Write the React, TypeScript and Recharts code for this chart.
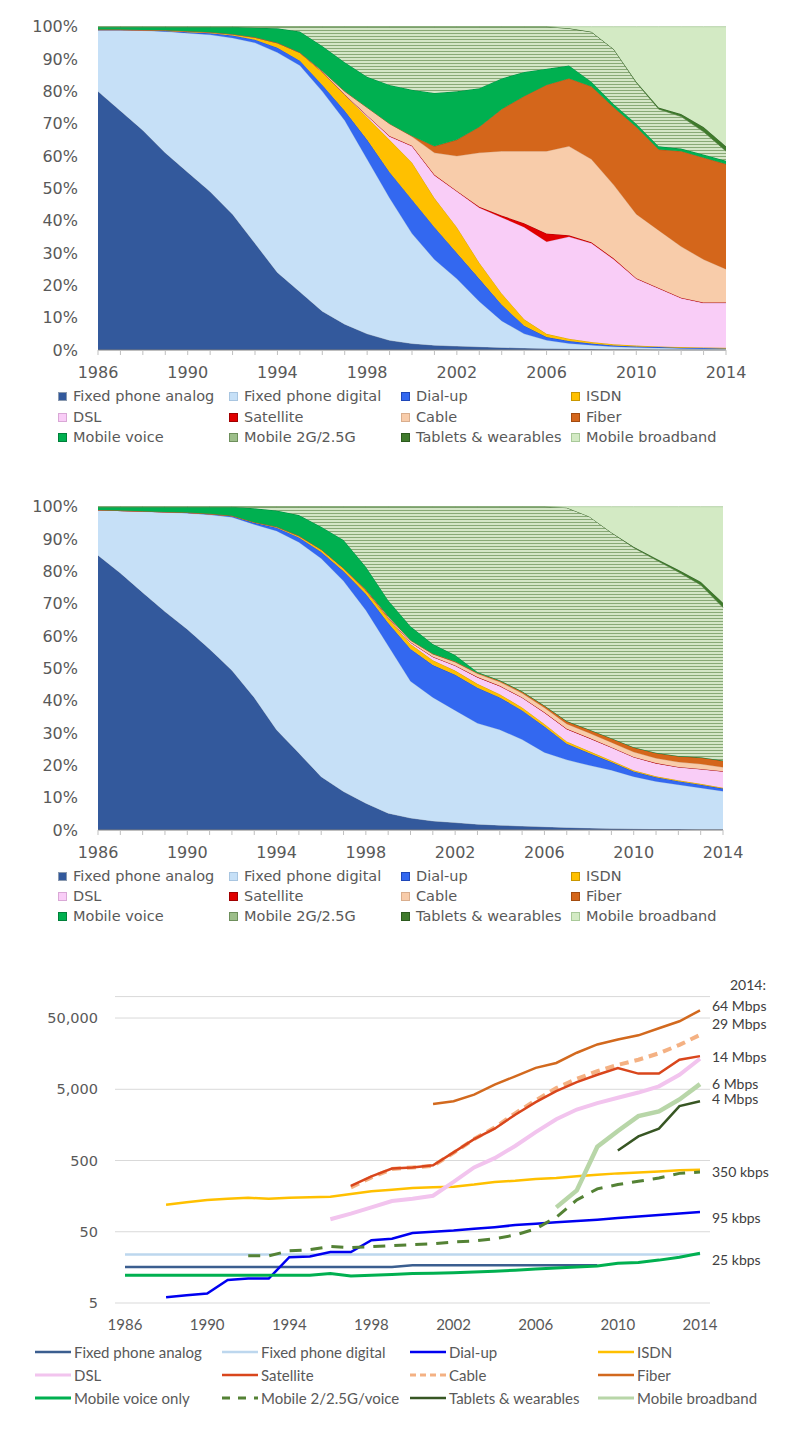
import React from 'react';
import { AreaChart, Area, LineChart, Line, XAxis, YAxis, CartesianGrid } from 'recharts';

const years = [1986, 1987, 1988, 1989, 1990, 1991, 1992, 1993, 1994, 1995, 1996, 1997, 1998, 1999, 2000,
  2001, 2002, 2003, 2004, 2005, 2006, 2007, 2008, 2009, 2010, 2011, 2012, 2013, 2014];

// upper panel, share in %
const topAnalog = [80, 74, 68, 61, 55, 49, 42, 33, 24, 18, 12, 8, 5, 3, 2, 1.5, 1.2, 1, 0.8, 0.6, 0.5, 0.4, 0.3, 0.2, 0.2, 0.1, 0.1, 0.1, 0.1];
const topDigital = [19, 25, 30.8, 37.5, 43, 48.5, 54.5, 62, 68, 70, 68, 63, 54, 44, 34, 26.5, 20.8, 14, 8.2, 4.4, 2.5, 1.6, 1.2, 0.8, 0.6, 0.5, 0.4, 0.3, 0.2];
const topDialup = [0, 0, 0.1, 0.2, 0.3, 0.5, 0.8, 1, 1.5, 1.5, 2, 3, 6, 8, 10.5, 10, 8, 7, 5, 2.5, 1, 0.8, 0.5, 0.4, 0.3, 0.3, 0.2, 0.2, 0.2];
const topIsdn = [0.1, 0.1, 0.1, 0.2, 0.3, 0.3, 0.4, 0.7, 1.5, 2.5, 4, 5, 7, 10, 11.5, 9, 8, 5, 3.5, 2, 1, 0.7, 0.5, 0.4, 0.3, 0.2, 0.2, 0.2, 0.2];
const topDsl = [0, 0, 0, 0, 0, 0, 0, 0, 0, 0, 0, 0, 0.5, 1, 5, 7, 11, 17, 23.5, 28.5, 28.5, 31.5, 30.5, 26.2, 20.6, 17.9, 15.1, 13.7, 13.8];
const topSatellite = [0, 0, 0, 0, 0, 0, 0, 0, 0, 0, 0, 0, 0, 0.2, 0.2, 0.2, 0.2, 0.3, 0.6, 1.2, 2.5, 0.5, 0.3, 0.3, 0.2, 0.2, 0.2, 0.2, 0.2];
const topCable = [0, 0, 0, 0, 0, 0, 0, 0, 0, 0, 0.3, 1, 2.5, 3.8, 2.8, 6.8, 10.8, 16.7, 19.9, 22.3, 25.5, 27.5, 25.7, 22.7, 19.8, 17.8, 15.8, 13.3, 10.3];
const topFiber = [0, 0, 0, 0, 0, 0, 0, 0, 0, 0, 0, 0, 0, 0, 0.2, 2, 5, 8, 13, 17, 20.5, 21, 22.5, 24, 27, 25, 29.5, 31.5, 32.5];
const topVoice = [0.9, 0.9, 1, 1.1, 1.4, 1.7, 2.3, 3, 4.5, 6.5, 7.7, 9, 9.5, 12, 14.3, 16.5, 15, 12, 9.5, 7.5, 5, 4, 1.5, 1, 1, 1, 0.8, 1, 1];
const topMobile2g = [0, 0, 0, 0, 0, 0, 0, 0.3, 0.5, 1.5, 6, 11, 15.5, 18, 19.5, 20.5, 20, 19, 16, 14, 13, 11.5, 15.4, 17, 12.7, 11.5, 9.9, 7, 3];
const topTablets = [0, 0, 0, 0, 0, 0, 0, 0, 0, 0, 0, 0, 0, 0, 0, 0, 0, 0, 0, 0, 0, 0, 0, 0, 0.3, 0.5, 0.8, 1.5, 1.5];
const topMobileBb = [0, 0, 0, 0, 0, 0, 0, 0, 0, 0, 0, 0, 0, 0, 0, 0, 0, 0, 0, 0, 0, 0.5, 1.6, 7, 17, 25, 27, 31, 37];

// middle panel, share in %
const midAnalog = [85, 79.5, 73.5, 67.5, 62, 55.7, 49, 41, 31, 23.8, 16.5, 11.9, 8.3, 5.2, 3.7, 2.8, 2.3, 1.8, 1.5, 1.2, 1, 0.8, 0.6, 0.5, 0.4, 0.3, 0.3, 0.2, 0.2];
const midDigital = [14, 19.3, 25, 30.7, 35.8, 41.3, 47, 53.5, 61.5, 65.2, 67.5, 65.1, 59.7, 51.8, 42.3, 38.2, 34.7, 31.2, 29.5, 26.8, 23, 20.9, 19.4, 18, 16.1, 14.7, 13.7, 12.8, 11.8];
const midDialup = [0, 0, 0.1, 0.1, 0.2, 0.3, 0.4, 0.5, 1, 1.5, 2, 3, 5, 7, 10, 10, 11, 11, 10, 9, 8, 5, 3.8, 2.5, 1.6, 1.3, 1.1, 1, 0.8];
const midIsdn = [0, 0, 0, 0, 0, 0, 0, 0.2, 0.3, 0.5, 0.8, 1, 1.2, 1.5, 1.5, 1.5, 1.3, 1.2, 1, 0.9, 0.8, 0.7, 0.6, 0.5, 0.4, 0.3, 0.3, 0.3, 0.3];
const midDsl = [0, 0, 0, 0, 0, 0, 0, 0, 0, 0, 0, 0, 0, 0.2, 0.5, 1, 1.5, 2, 2.5, 3, 3.5, 3.8, 4, 4, 4, 4, 4, 4.5, 5];
const midSatellite = [0, 0, 0, 0, 0, 0, 0, 0, 0, 0, 0, 0, 0, 0, 0.1, 0.1, 0.1, 0.1, 0.1, 0.1, 0.1, 0.1, 0.1, 0.1, 0.1, 0.1, 0.1, 0.1, 0.1];
const midCable = [0, 0, 0, 0, 0, 0, 0, 0, 0, 0, 0, 0, 0.2, 0.4, 0.6, 0.8, 1, 1, 1.2, 1.3, 1.4, 1.5, 1.5, 1.5, 1.5, 1.5, 1.5, 1.5, 1.2];
const midFiber = [0, 0, 0, 0, 0, 0, 0, 0, 0, 0, 0, 0, 0, 0, 0, 0.1, 0.2, 0.3, 0.4, 0.5, 0.6, 0.8, 1, 1.2, 1.4, 1.6, 1.8, 2, 2];
const midVoice = [1, 1.2, 1.4, 1.6, 1.8, 2.2, 2.8, 4.3, 5, 6.4, 7, 8.7, 7, 5, 4.3, 3, 2, 0.3, 0.1, 0.1, 0.1, 0.1, 0.1, 0.1, 0.1, 0.1, 0.1, 0.1, 0.1];
const midMobile2g = [0, 0, 0, 0, 0, 0, 0, 0.5, 1.2, 2.6, 6.2, 10.3, 18.6, 28.9, 37, 42.5, 45.9, 51.1, 53.7, 57.1, 61.5, 66, 65.9, 63.6, 61.7, 59.6, 56.9, 53.3, 47.3];
const midTablets = [0, 0, 0, 0, 0, 0, 0, 0, 0, 0, 0, 0, 0, 0, 0, 0, 0, 0, 0, 0, 0, 0, 0, 0, 0.3, 0.5, 0.7, 1, 1.5];
const midMobileBb = [0, 0, 0, 0, 0, 0, 0, 0, 0, 0, 0, 0, 0, 0, 0, 0, 0, 0, 0, 0, 0, 0.3, 3, 8, 12.4, 16, 19.5, 23.2, 29.7];

// lower panel, kbps (log scale)
const n = null;
const kbpsAnalog = [16, 16, 16, 16, 16, 16, 16, 16, 16, 16, 16, 16, 16, 16, 17, 17, 17, 17, 17, 17, 17, 17, 17, 17, n, n, n, n, n];
const kbpsDigital = [24, 24, 24, 24, 24, 24, 24, 24, 24, 24, 24, 24, 24, 24, 24, 24, 24, 24, 24, 24, 24, 24, 24, 24, 24, 24, 24, 24, 24];
const kbpsDialup = [n, n, 6, 6.4, 6.8, 10.5, 11, 11, 22, 22.5, 26, 26, 38, 40, 48, 50, 52, 55, 58, 62, 65, 68, 71, 74, 78, 82, 86, 90, 95];
const kbpsIsdn = [n, n, 120, 130, 140, 145, 150, 145, 150, 152, 155, 170, 185, 195, 205, 210, 215, 230, 250, 260, 275, 285, 300, 315, 330, 340, 350, 365, 370];
const kbpsDsl = [n, n, n, n, n, n, n, n, n, n, 75, 90, 110, 135, 145, 160, 250, 400, 540, 800, 1250, 1900, 2600, 3200, 3800, 4500, 5500, 8000, 13400];
const kbpsSatellite = [n, n, n, n, n, n, n, n, n, n, n, 220, 300, 385, 400, 430, 650, 1000, 1400, 2200, 3300, 4700, 6300, 8000, 9900, 8300, 8300, 13000, 14600];
const kbpsCable = [n, n, n, n, n, n, n, n, n, n, n, 210, 290, 380, 400, 420, 640, 1000, 1450, 2300, 3500, 5200, 7000, 9000, 11000, 13000, 16000, 21000, 29000];
const kbpsFiber = [n, n, n, n, n, n, n, n, n, n, n, n, n, n, n, 3100, 3400, 4200, 5800, 7600, 10000, 11700, 16300, 21300, 25000, 28600, 36000, 45000, 64000];
const kbpsVoice = [12.3, 12.3, 12.3, 12.3, 12.3, 12.3, 12.3, 12.3, 12.3, 12.3, 13, 12, 12.3, 12.6, 13, 13.1, 13.3, 13.6, 14, 14.4, 15, 15.5, 16, 16.5, 18, 18.5, 20, 22, 25];
const kbpsMobile2g = [n, n, n, n, n, n, 23, 23, 27, 28, 31, 30, 31, 32, 33, 34, 36, 37, 40, 45, 55, 80, 140, 200, 230, 255, 285, 330, 345];
const kbpsTablets = [n, n, n, n, n, n, n, n, n, n, n, n, n, n, n, n, n, n, n, n, n, n, n, n, 690, 1090, 1400, 2900, 3400];
const kbpsMobileBb = [n, n, n, n, n, n, n, n, n, n, n, n, n, n, n, n, n, n, n, n, n, 110, 190, 780, 1300, 2100, 2450, 3600, 5900];

const endLabels = ['64 Mbps', '29 Mbps', '14 Mbps', '6 Mbps', '4 Mbps', '350 kbps', '95 kbps', '25 kbps'];

const keys = ['analog', 'digital', 'dialup', 'isdn', 'dsl', 'satellite', 'cable', 'fiber', 'voice', 'mobile2g', 'tablets', 'mobilebb'];
const shareNames = ['Fixed phone analog', 'Fixed phone digital', 'Dial-up', 'ISDN', 'DSL', 'Satellite', 'Cable', 'Fiber',
  'Mobile voice', 'Mobile 2G/2.5G', 'Tablets & wearables', 'Mobile broadband'];
const speedNames = ['Fixed phone analog', 'Fixed phone digital', 'Dial-up', 'ISDN', 'DSL', 'Satellite', 'Cable', 'Fiber',
  'Mobile voice only', 'Mobile 2/2.5G/voice', 'Tablets & wearables', 'Mobile broadband'];

const areaFill = ['#33599C', '#C6E0F7', '#3368F0', '#FFC000', '#F9CDF7', '#E00000', '#F8CCAA', '#D4661B', '#00B050', 'HATCH', '#3F7A2C', '#D3EAC4'];
const areaStroke = ['#8C9BB0', '#A8C5E0', '#1F47B8', '#C99700', '#D9A8D6', '#A00000', '#D9AE8E', '#A34B10', '#00803A', '#6E8F5C', '#2C5A1E', '#A9C99A'];
const lineColor = ['#3B5E8F', '#BDD7EE', '#0000F0', '#FFC000', '#F2C4EE', '#D9461C', '#F4B183', '#D2691E', '#00B050', '#548235', '#375623', '#B8D6A8'];
const lineWidth = [2.5, 2.5, 2.5, 2.5, 4, 2.5, 4, 2.5, 3, 3, 2.5, 4.5];
const lineDash = ['', '', '', '', '', '', '9 6', '', '', '12 9', '', ''];

const topCols = [topAnalog, topDigital, topDialup, topIsdn, topDsl, topSatellite, topCable, topFiber, topVoice, topMobile2g, topTablets, topMobileBb];
const midCols = [midAnalog, midDigital, midDialup, midIsdn, midDsl, midSatellite, midCable, midFiber, midVoice, midMobile2g, midTablets, midMobileBb];
const kbpsCols = [kbpsAnalog, kbpsDigital, kbpsDialup, kbpsIsdn, kbpsDsl, kbpsSatellite, kbpsCable, kbpsFiber, kbpsVoice, kbpsMobile2g, kbpsTablets, kbpsMobileBb];

const buildRows = (cols: (number | null)[][]) =>
  years.map((year, i) => {
    const row: Record<string, number | null> = { year };
    keys.forEach((k, j) => { row[k] = cols[j][i]; });
    return row;
  });

const topData = buildRows(topCols);
const midData = buildRows(midCols);
const speedData = buildRows(kbpsCols);

const AREA_FONT = '"DejaVu Sans", Verdana, sans-serif';
const LINE_FONT = 'Lato, "Open Sans", sans-serif';
const GRAY = '#595959';

const colX = [58, 229, 401, 571];
const drawOrder = [0, 1, 2, 3, 4, 6, 5, 7, 8, 9, 11, 10];

function ShareChart({ data, top, right, hatchId }: { data: any[]; top: number; right: number; hatchId: string }) {
  return (
    <div style={{ position: 'absolute', left: 0, top, width: 789, height: 395 }}>
      <AreaChart width={789} height={395} data={data} stackOffset="expand"
        margin={{ top: 26.7, right, bottom: 15, left: 38 }}>
        <defs>
          <pattern id={hatchId} width="8" height="3" patternUnits="userSpaceOnUse">
            <rect width="8" height="3" fill="#D4E6C7" />
            <rect width="8" height="1" fill="#88A976" />
          </pattern>
        </defs>
        <XAxis dataKey="year" interval={0} height={30}
          tickFormatter={(v: number) => ((v - 1986) % 4 === 0 ? String(v) : '')}
          tickSize={5} tickMargin={12}
          tick={{ fill: GRAY, fontSize: 16, fontFamily: AREA_FONT }}
          axisLine={{ stroke: '#7F7F7F' }} tickLine={{ stroke: '#BFBFBF' }} />
        <YAxis width={60} domain={[0, 1]} ticks={[0, 0.1, 0.2, 0.3, 0.4, 0.5, 0.6, 0.7, 0.8, 0.9, 1]}
          tickFormatter={(v: number) => `${Math.round(v * 100)}%`}
          axisLine={false} tickLine={false} tickSize={0} tickMargin={20}
          tick={{ fill: GRAY, fontSize: 16, fontFamily: AREA_FONT }} />
        {keys.map((k, j) => (
          <Area key={k} type="linear" dataKey={k} stackId="s"
            fill={areaFill[j] === 'HATCH' ? `url(#${hatchId})` : areaFill[j]} fillOpacity={1}
            stroke={areaStroke[j]} strokeWidth={0.8} isAnimationActive={false} />
        ))}
      </AreaChart>
    </div>
  );
}

function ShareLegend({ rows }: { rows: number[] }) {
  return (
    <>
      {shareNames.map((name, j) => (
        <div key={name} style={{
          position: 'absolute', left: colX[j % 4], top: rows[Math.floor(j / 4)], transform: 'translateY(-50%)',
          display: 'flex', alignItems: 'center', fontFamily: AREA_FONT, fontSize: 14.5, color: GRAY, whiteSpace: 'nowrap',
        }}>
          <span style={{
            display: 'inline-block', width: 9, height: 9, marginRight: 6, boxSizing: 'border-box',
            background: areaFill[j] === 'HATCH' ? '#9DBE8A' : areaFill[j], border: `1px solid ${areaStroke[j]}`,
          }} />
          {name}
        </div>
      ))}
    </>
  );
}

const lineColX = [35, 222, 410, 598];

function SpeedLegend() {
  const rows = [1352, 1375, 1398];
  return (
    <>
      {speedNames.map((name, j) => (
        <div key={name} style={{
          position: 'absolute', left: lineColX[j % 4], top: rows[Math.floor(j / 4)], transform: 'translateY(-50%)',
          display: 'flex', alignItems: 'center', fontFamily: LINE_FONT, fontSize: 15, color: GRAY, whiteSpace: 'nowrap',
        }}>
          <svg width={36} height={8} style={{ marginRight: 3 }}>
            <line x1={0} y1={4} x2={36} y2={4} stroke={lineColor[j]} strokeWidth={Math.min(lineWidth[j], 3)}
              strokeDasharray={j === 6 ? '6 4' : j === 9 ? '8 8' : undefined} />
          </svg>
          {name}
        </div>
      ))}
    </>
  );
}

function SpeedChart() {
  return (
    <div style={{ position: 'absolute', left: 0, top: 960, width: 789, height: 380 }}>
      <LineChart width={789} height={380} data={speedData} margin={{ top: 36.6, right: 79, bottom: 7, left: 10 }}>
        <CartesianGrid vertical={false} stroke="#D9D9D9" />
        <XAxis dataKey="year" interval={3} height={30} padding={{ left: 10, right: 10 }}
          axisLine={false} tickLine={false} tickSize={0} tickMargin={16}
          tick={{ fill: GRAY, fontSize: 15, fontFamily: LINE_FONT }} />
        <YAxis width={105} scale="log" domain={[5, 100000]} allowDataOverflow
          ticks={[5, 50, 500, 5000, 50000]} tickFormatter={(v: number) => v.toLocaleString('en-US')}
          axisLine={false} tickLine={false} tickSize={0} tickMargin={17}
          tick={{ fill: GRAY, fontSize: 14.5, fontFamily: AREA_FONT }} />
        {drawOrder.map((j) => (
          <Line key={keys[j]} type="linear" dataKey={keys[j]} stroke={lineColor[j]} strokeWidth={lineWidth[j]}
            strokeDasharray={lineDash[j] || undefined} dot={false} connectNulls={false} isAnimationActive={false} />
        ))}
      </LineChart>
    </div>
  );
}

const endLabelTops = [1005, 1023, 1056, 1083, 1098, 1171, 1217, 1259];

export default function App() {
  return (
    <div style={{ position: 'relative', width: 789, height: 1445, margin: -8, background: '#fff', overflow: 'hidden' }}>
      <ShareChart data={topData} top={0} right={63} hatchId="hatchTop" />
      <ShareLegend rows={[396, 417, 437]} />
      <ShareChart data={midData} top={480} right={66} hatchId="hatchMid" />
      <ShareLegend rows={[876, 896, 916]} />
      <SpeedChart />
      <SpeedLegend />
      <div style={{ position: 'absolute', left: 730, top: 984, transform: 'translateY(-50%)', fontFamily: LINE_FONT, fontSize: 14, color: '#404040' }}>
        2014:
      </div>
      {endLabels.map((t, i) => (
        <div key={t} style={{
          position: 'absolute', left: 712, top: endLabelTops[i], transform: 'translateY(-50%)',
          fontFamily: LINE_FONT, fontSize: 14, color: '#404040', whiteSpace: 'nowrap',
        }}>{t}</div>
      ))}
      <div style={{
        position: 'absolute', left: 4, top: 4, width: 780, height: 1436, zIndex: 20, pointerEvents: 'none',
        border: '2px solid #111', boxSizing: 'border-box',
      }} />
    </div>
  );
}
